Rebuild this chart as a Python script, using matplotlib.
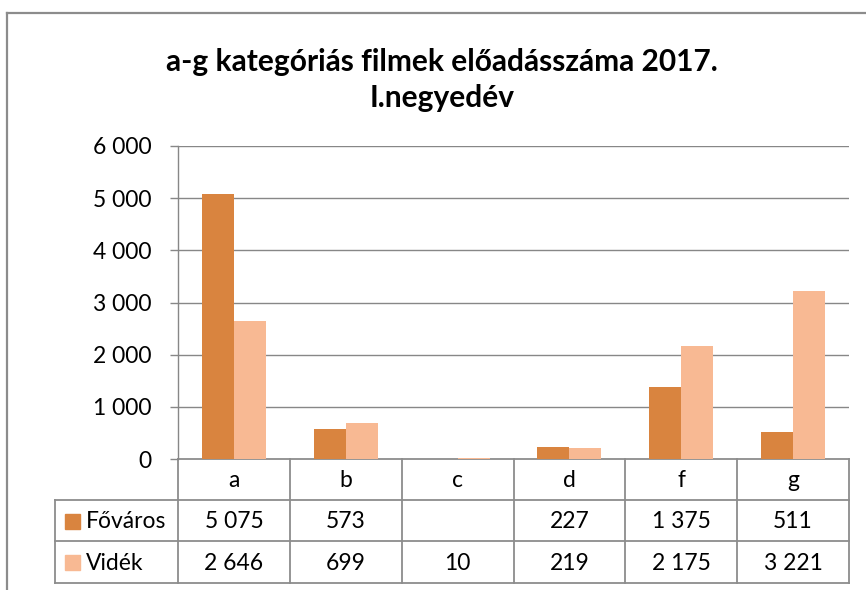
import matplotlib
matplotlib.use("Agg")
import matplotlib.pyplot as plt
from matplotlib.patches import Rectangle
from matplotlib.lines import Line2D

categories = ["a", "b", "c", "d", "f", "g"]
fovaros = [5075, 573, None, 227, 1375, 511]
videk = [2646, 699, 10, 219, 2175, 3221]
series_names = ["Főváros", "Vidék"]
yticks = [0, 1000, 2000, 3000, 4000, 5000, 6000]
title = "a-g kategóriás filmek előadásszáma 2017.\nI.negyedév"

C_FOV = "#D9843F"
C_VID = "#F8B993"
GRID = "#878787"
FONT = "Lato"

W, H = 866, 590
fig = plt.figure(figsize=(W / 100, H / 100), dpi=100)
plt.rcParams['font.family'] = [FONT, 'DejaVu Sans']

def fx(px):
    return px / W

def fy(py):
    return 1 - py / H

# outer chart frame
over = fig.add_axes([0, 0, 1, 1])
over.set_xlim(0, W)
over.set_ylim(H, 0)
over.axis("off")
over.add_line(Line2D([7, 7], [13, H], color="#8c8c8c", lw=1.6))
over.add_line(Line2D([7, W], [13, 13], color="#8c8c8c", lw=1.6))

fs = 16.5
left, right, top, bottom = 178, 849, 146, 459
ax = fig.add_axes([fx(left), fy(bottom), fx(right) - fx(left), fy(top) - fy(bottom)])
ax.set_zorder(2)
ax.patch.set_alpha(0)

n = len(categories)
x = list(range(n))
bw = 0.286
fv_vals = [v if v is not None else 0 for v in fovaros]
ax.bar([i - bw / 2 for i in x], fv_vals, width=bw, color=C_FOV, zorder=3)
ax.bar([i + bw / 2 for i in x], videk, width=bw, color=C_VID, zorder=3)
ax.set_xlim(-0.5, n - 0.5)
ax.set_ylim(0, 6000)
ax.set_yticks(yticks)
ax.set_yticklabels([f"{v:,}".replace(",", " ") for v in yticks], fontsize=fs, fontname=FONT)
ax.set_xticks([])
ax.tick_params(axis="y", length=6, color=GRID, width=1, pad=13)
for y in yticks[1:]:
    ax.axhline(y, color=GRID, lw=1, zorder=1)
for s in ["top", "right", "bottom"]:
    ax.spines[s].set_visible(False)
ax.spines["left"].set_color(GRID)
ax.spines["left"].set_linewidth(1)

# data table beneath the plot
fig.canvas.draw()
trans = ax.transData
inv = over.transData.inverted()

def col_px(xd):
    disp = trans.transform((xd, 0))
    return inv.transform(disp)[0]

col_edges = [col_px(i - 0.5) for i in range(n + 1)]
row_edges = [459, 500, 541, 583]
leg_left = 55
lc = "#8c8c8c"
lw = 1.3
over.add_line(Line2D([col_edges[0], col_edges[-1]], [row_edges[0]] * 2, color=lc, lw=lw, zorder=5))
for ry in row_edges[1:]:
    over.add_line(Line2D([leg_left, col_edges[-1]], [ry, ry], color=lc, lw=lw))
for cx in col_edges:
    over.add_line(Line2D([cx, cx], [row_edges[0], row_edges[-1]], color=lc, lw=lw))
over.add_line(Line2D([leg_left, leg_left], [row_edges[1], row_edges[-1]], color=lc, lw=lw))

for i, c in enumerate(categories):
    cx = (col_edges[i] + col_edges[i + 1]) / 2
    over.text(cx, (row_edges[0] + row_edges[1]) / 2 + 1, c, ha="center", va="center", fontsize=fs)
    for r, series in enumerate([fovaros, videk]):
        v = series[i]
        if v is None:
            continue
        over.text(cx, (row_edges[r + 1] + row_edges[r + 2]) / 2 + 1, f"{v:,}".replace(",", " "),
                  ha="center", va="center", fontsize=fs)

for r, (name, col) in enumerate(zip(series_names, [C_FOV, C_VID])):
    cy = (row_edges[r + 1] + row_edges[r + 2]) / 2
    over.add_patch(Rectangle((65, cy - 7), 15, 15, color=col))
    over.text(86, cy + 1, name, ha="left", va="center", fontsize=fs)

over.text(W / 2 + 9, 80, title, ha="center", va="center", fontsize=21.5, fontweight="bold",
          linespacing=1.38)

fig.savefig("out.png", dpi=100)
